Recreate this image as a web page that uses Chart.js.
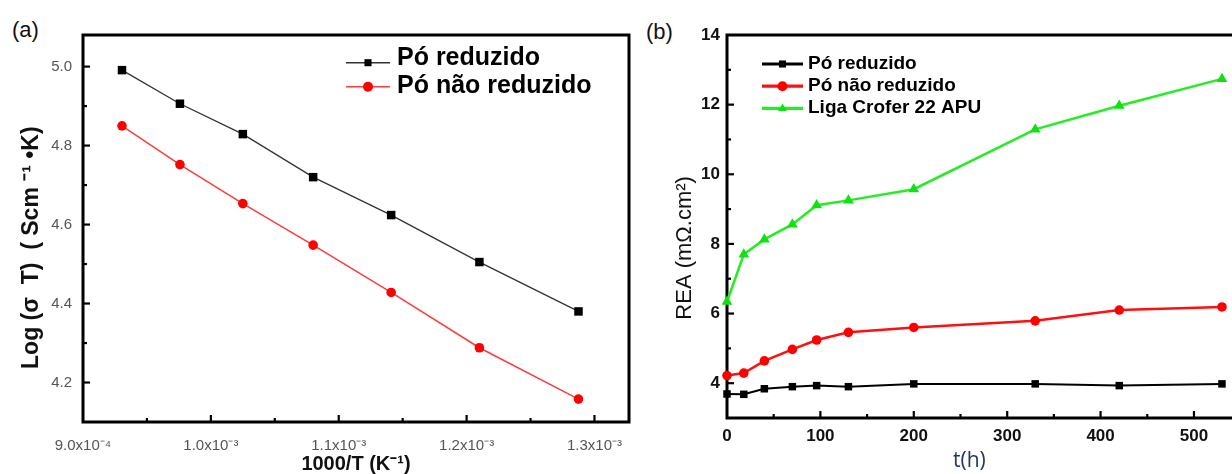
<!DOCTYPE html>
<html lang="pt">
<head>
<meta charset="UTF-8">
<title>Condutividade e REA</title>
<script src="https://cdn.jsdelivr.net/npm/chart.js"></script>
<style>
  html, body { margin: 0; padding: 0; background: #fff; overflow: hidden; width: 1232px; height: 474px; }
  .painel { position: absolute; top: 0; height: 474px; }
  #boxA { left: 0; width: 640px; }
  #boxB { left: 640px; width: 620px; }
  .letra { position: absolute; font-family: "Liberation Sans", Arial, sans-serif; font-size: 22px; color: #111; }
</style>
</head>
<body>
<div class="letra" style="left:12px; top:17px">(a)</div>
<div class="letra" style="left:646px; top:19px">(b)</div>
<div class="painel" id="boxA"><canvas id="graficoA"></canvas></div>
<div class="painel" id="boxB"><canvas id="graficoB"></canvas></div>

<script>
// (a) Log(σT) x 1000/T
const invT = [0.9305e-3, 0.9758e-3, 1.025e-3, 1.080e-3, 1.141e-3, 1.210e-3, 1.2875e-3];
const logReduzido = [4.991, 4.906, 4.829, 4.720, 4.624, 4.505, 4.380];
const logNaoReduzido = [4.850, 4.752, 4.653, 4.548, 4.428, 4.288, 4.158];
const ticksXA = [0.9e-3, 1.0e-3, 1.1e-3, 1.2e-3, 1.3e-3];
const rotulosXA = ['9.0x10⁻⁴', '1.0x10⁻³', '1.1x10⁻³', '1.2x10⁻³', '1.3x10⁻³'];
const ticksYA = [4.2, 4.4, 4.6, 4.8, 5.0];

// (b) REA x tempo
const tempo = [0, 18, 40, 70, 96, 130, 200, 330, 420, 530];
const reaReduzido = [3.69, 3.68, 3.84, 3.90, 3.93, 3.90, 3.98, 3.98, 3.93, 3.98];
const reaNaoReduzido = [4.22, 4.29, 4.64, 4.97, 5.24, 5.46, 5.60, 5.79, 6.10, 6.19];
const reaCrofer = [6.34, 7.70, 8.13, 8.56, 9.11, 9.25, 9.57, 11.29, 11.97, 12.74];
const ticksXB = [0, 100, 200, 300, 400, 500];
const ticksYB = [4, 6, 8, 10, 12, 14];

const fonte = '"Liberation Sans", Arial, sans-serif';

function pares(xs, ys) {
  return xs.map((x, i) => ({ x: x, y: ys[i] }));
}

// caixa preta em volta da area e marcas de escala para dentro
const moldura = {
  id: 'moldura',
  beforeDatasetsDraw(chart, args, o) {
    const ctx = chart.ctx, a = chart.chartArea;
    ctx.save();
    ctx.strokeStyle = '#000';
    ctx.lineWidth = o.espessura;
    ctx.strokeRect(a.left, a.top, a.right - a.left, a.bottom - a.top);
    ctx.lineWidth = 2.2;
    const marcar = (scale, horiz) => {
      const maj = scale.ticks.map(t => t.value);
      const passo = maj[1] - maj[0];
      const menores = [];
      for (let v = maj[0] - passo / 2; v < scale.max; v += passo) menores.push(v);
      const linha = (v, len) => {
        if (v <= scale.min + 1e-12 || v >= scale.max - 1e-12) return;
        const p = scale.getPixelForValue(v);
        ctx.beginPath();
        if (horiz) { ctx.moveTo(p, a.bottom); ctx.lineTo(p, a.bottom - len); }
        else { ctx.moveTo(a.left, p); ctx.lineTo(a.left + len, p); }
        ctx.stroke();
      };
      maj.forEach(v => linha(v, 7));
      menores.forEach(v => linha(v, 4));
    };
    marcar(chart.scales.x, true);
    marcar(chart.scales.y, false);
    ctx.restore();
  }
};

const legenda = {
  id: 'legenda',
  afterDraw(chart, args, o) {
    const ctx = chart.ctx;
    chart.data.datasets.forEach((ds, i) => {
      const y = o.yLinha + i * o.passoLinha;
      ctx.save();
      ctx.strokeStyle = ds.borderColor;
      ctx.lineWidth = o.espessura;
      ctx.beginPath();
      ctx.moveTo(o.x, y);
      ctx.lineTo(o.x + o.comp, y);
      ctx.stroke();
      ctx.fillStyle = ds.pointBackgroundColor;
      Chart.helpers.drawPoint(ctx, { pointStyle: ds.pointStyle, rotation: 0, radius: o.raio, borderWidth: 0 }, o.x + o.comp / 2, y);
      ctx.fillStyle = '#000';
      ctx.font = o.fonte;
      ctx.textBaseline = 'alphabetic';
      ctx.textAlign = 'left';
      ctx.fillText(ds.label, o.x + o.comp + o.folga, o.yTexto + i * o.passoTexto);
      ctx.restore();
    });
  }
};

new Chart(document.getElementById('graficoA'), {
  type: 'line',
  data: {
    datasets: [
      {
        label: 'Pó reduzido',
        data: pares(invT, logReduzido),
        borderColor: '#333',
        borderWidth: 1.3,
        pointStyle: 'rect',
        pointRadius: 6,
        pointBackgroundColor: '#000',
        pointBorderWidth: 0,
        clip: false
      },
      {
        label: 'Pó não reduzido',
        data: pares(invT, logNaoReduzido),
        borderColor: '#ff3b3b',
        borderWidth: 1.5,
        pointStyle: 'circle',
        pointRadius: 4.8,
        pointBackgroundColor: '#ff0000',
        pointBorderWidth: 0,
        clip: false
      }
    ]
  },
  options: {
    responsive: true,
    maintainAspectRatio: false,
    animation: false,
    layout: { padding: { left: 0, right: 11, top: 35, bottom: 0 } },
    plugins: {
      legend: { display: false },
      tooltip: { enabled: false },
      moldura: { espessura: 3 },
      legenda: {
        x: 346, comp: 44, folga: 7, raio: 5,
        yLinha: 62.7, passoLinha: 24,
        yTexto: 65, passoTexto: 28,
        espessura: 1.5,
        fonte: 'bold 25px ' + fonte
      }
    },
    scales: {
      x: {
        type: 'linear',
        min: 0.9e-3,
        max: 1.327e-3,
        afterBuildTicks: s => { s.ticks = ticksXA.map(v => ({ value: v })); },
        afterFit: s => { s.height = 52; },
        grid: { display: false, drawTicks: false },
        border: { display: false },
        ticks: {
          callback: (v, i) => rotulosXA[i],
          padding: 15, color: '#555', maxRotation: 0, autoSkip: false,
          font: { size: 15, family: fonte }
        },
        title: {
          display: true, text: '1000/T (K⁻¹)', color: '#111',
          font: { size: 20, weight: 'bold', family: fonte, lineHeight: 1 },
          padding: { top: 0, bottom: 0 }
        }
      },
      y: {
        min: 4.10,
        max: 5.08,
        afterBuildTicks: s => { s.ticks = ticksYA.map(v => ({ value: v })); },
        afterFit: s => { s.width = 83; },
        grid: { display: false, drawTicks: false },
        border: { display: false },
        ticks: {
          callback: v => v.toFixed(1),
          padding: 11, color: '#555',
          font: { size: 15, family: fonte }
        },
        title: {
          display: true, text: 'Log (σ  T)  ( Scm ⁻¹ •K)      ', color: '#111',
          font: { size: 23, weight: 'bold', family: fonte },
          padding: { top: 18, bottom: 0 }
        }
      }
    }
  },
  plugins: [moldura, legenda]
});

new Chart(document.getElementById('graficoB'), {
  type: 'line',
  data: {
    datasets: [
      {
        label: 'Pó reduzido',
        data: pares(tempo, reaReduzido),
        borderColor: '#000',
        borderWidth: 2,
        pointStyle: 'rect',
        pointRadius: 5.3,
        pointBackgroundColor: '#000',
        pointBorderWidth: 0,
        clip: false
      },
      {
        label: 'Pó não reduzido',
        data: pares(tempo, reaNaoReduzido),
        borderColor: '#ff1010',
        borderWidth: 2.5,
        pointStyle: 'circle',
        pointRadius: 4.8,
        pointBackgroundColor: '#ff0000',
        pointBorderWidth: 0,
        clip: false
      },
      {
        label: 'Liga Crofer 22 APU',
        data: pares(tempo, reaCrofer),
        borderColor: '#22ee22',
        borderWidth: 2.5,
        pointStyle: 'triangle',
        pointRadius: 6.2,
        pointBackgroundColor: '#11e011',
        pointBorderWidth: 0,
        clip: false
      }
    ]
  },
  options: {
    responsive: true,
    maintainAspectRatio: false,
    animation: false,
    layout: { padding: { left: 0, right: 10, top: 35, bottom: 0 } },
    plugins: {
      legend: { display: false },
      tooltip: { enabled: false },
      moldura: { espessura: 3 },
      legenda: {
        x: 122, comp: 41, folga: 5, raio: 5,
        yLinha: 64, passoLinha: 22.2,
        yTexto: 69, passoTexto: 22.2,
        espessura: 3.2,
        fonte: 'bold 19px ' + fonte
      }
    },
    scales: {
      x: {
        type: 'linear',
        min: 0,
        max: 560,
        afterBuildTicks: s => { s.ticks = ticksXB.map(v => ({ value: v })); },
        afterFit: s => { s.height = 56; },
        grid: { display: false, drawTicks: false },
        border: { display: false },
        ticks: {
          padding: 8, color: '#111', maxRotation: 0, autoSkip: false,
          font: { size: 17, weight: 'bold', family: fonte }
        },
        title: {
          display: true, text: 't(h)       ', color: '#203864',
          font: { size: 21, family: '"Open Sans", sans-serif', lineHeight: 1.2 },
          padding: { top: 0, bottom: 0 }
        }
      },
      y: {
        min: 3,
        max: 14,
        afterBuildTicks: s => { s.ticks = ticksYB.map(v => ({ value: v })); },
        afterFit: s => { s.width = 87; },
        grid: { display: false, drawTicks: false },
        border: { display: false },
        ticks: {
          padding: 7, color: '#111',
          font: { size: 17, weight: 'bold', family: fonte }
        },
        title: {
          display: true, text: 'REA (mΩ.cm²)       ', color: '#111',
          font: { size: 22, family: fonte },
          padding: { top: 32, bottom: 0 }
        }
      }
    }
  },
  plugins: [moldura, legenda]
});
</script>
</body>
</html>
